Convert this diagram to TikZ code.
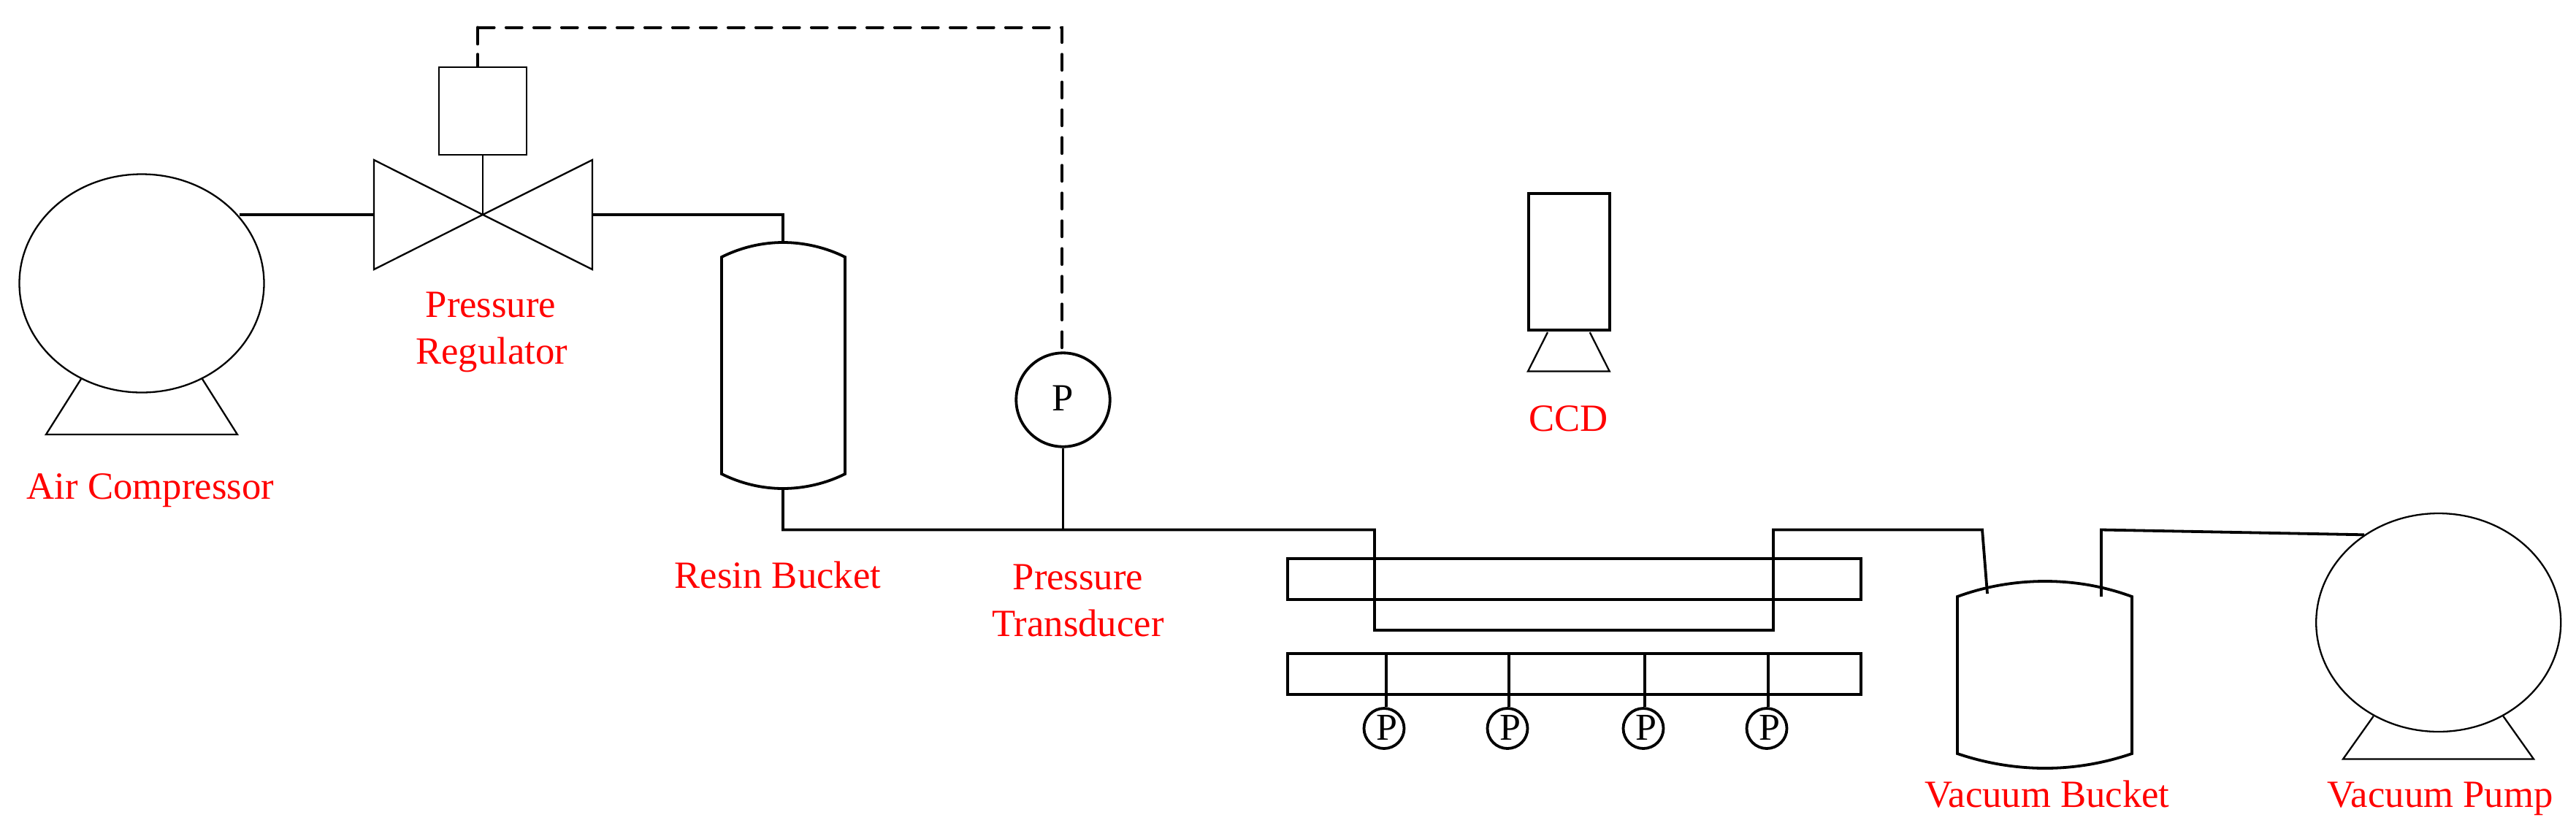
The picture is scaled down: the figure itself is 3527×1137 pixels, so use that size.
\documentclass[tikz,border=0pt]{standalone}
\usepackage{fontspec}
\setmainfont{Liberation Serif}
\usetikzlibrary{shapes.geometric}
\tikzset{
  thinline/.style={draw=black,line width=1.15pt,line join=miter},
  pipe/.style={draw=black,line width=1.9pt,line join=miter},
  signal/.style={draw=black,line width=2pt,line cap=round,dash pattern=on 10.85pt off 8.15pt,dash phase=16.35pt},
  signalend/.style={draw=black,line width=2pt,line cap=round,dash pattern=on 11.4pt off 7pt},
  bucketline/.style={draw=black,line width=1.9pt,line join=miter},
  machine/.style={ellipse,draw=black,line width=1.15pt,inner sep=0pt,minimum width=167.5pt,minimum height=149.5pt},
  gaugebig/.style={circle,draw=black,line width=1.9pt,inner sep=0pt,minimum size=64.2pt,font=\fontsize{26.3pt}{26.3pt}\selectfont},
  gaugesmall/.style={circle,draw=black,line width=1.9pt,inner sep=0pt,minimum size=27.5pt,font=\fontsize{26pt}{26pt}\selectfont},
  boxthin/.style={rectangle,draw=black,line width=1.15pt,inner sep=0pt},
  boxthick/.style={rectangle,draw=black,line width=2pt,inner sep=0pt},
  lbl/.style={text=red,anchor=base,inner sep=0pt,font=\fontsize{26.35pt}{26.35pt}\selectfont},
}
\begin{document}
\begin{tikzpicture}[x=0.5pt,y=-0.5pt]
\path[use as bounding box,fill=white] (0,0) rectangle (3527,1137);

% air compressor
\node[machine] (comp) at (194,388) {};
\coordinate (compout) at (328,294);
\draw[thinline] (111,519) -- (63,595) -- (325,595) -- (277,519);

% valve and actuator
\coordinate (vc) at (661,294);
\coordinate (vl) at (512,294);
\coordinate (vr) at (811,294);
\draw[thinline] (vc) -- (512,369) -- (512,219) -- (vc) -- (811,219) -- (811,369) -- cycle;
\node[boxthin,minimum width=60pt,minimum height=60pt] (act) at (661,152) {};
\draw[thinline] (act.south) -- (vc);

% resin bucket
\coordinate (rtop) at (1072,332);
\coordinate (rbot) at (1072,669);
\draw[bucketline] (988,352) .. controls (1014,339) and (1043,332) .. (rtop)
  .. controls (1101,332) and (1131,339) .. (1157,352) -- (1157,649)
  .. controls (1131,662) and (1101,669) .. (rbot)
  .. controls (1043,669) and (1014,662) .. (988,649) -- cycle;

% vacuum bucket
\coordinate (vtop) at (2800,796);
\coordinate (vbot) at (2800,1052);
\draw[bucketline] (2680,817) .. controls (2718,803) and (2759,796) .. (vtop)
  .. controls (2841,796) and (2881,803) .. (2919,817) -- (2919,1032)
  .. controls (2881,1045) and (2841,1052) .. (vbot)
  .. controls (2759,1052) and (2718,1045) .. (2680,1032) -- cycle;

% vacuum pump
\node[machine] (pump) at (3338.7,852.5) {};
\coordinate (pumpin) at (3237,732.3);
\draw[thinline] (3249.7,980.7) -- (3208,1039.5) -- (3469,1039.5) -- (3427.3,980.7);

% transducer
\node[gaugebig] (pt) at (1455.5,547.5) {\raisebox{2.5pt}{P}};

% test section
\node[boxthick,minimum width=392.5pt,minimum height=27.85pt] (upper) at (2155.5,793) {};
\node[boxthick,minimum width=392.5pt,minimum height=28pt] (lower) at (2155.5,923) {};

% small gauges
\node[gaugesmall] (g1) at (1895,997.5) {\hspace*{4pt}\raisebox{1.5pt}{P}};
\node[gaugesmall] (g2) at (2064,997.5) {\hspace*{4pt}\raisebox{1.5pt}{P}};
\node[gaugesmall] (g3) at (2250,997.5) {\hspace*{4pt}\raisebox{1.5pt}{P}};
\node[gaugesmall] (g4) at (2419,997.5) {\hspace*{4pt}\raisebox{1.5pt}{P}};
\foreach \n/\x in {g1/1898,g2/2066,g3/2252,g4/2421}{
  \coordinate (\n top) at (\x,895);
  \draw[pipe] (\n top) -- (\x,968);
}

% CCD
\node[boxthick,minimum width=55.5pt,minimum height=93.5pt] (ccd) at (2148.2,358.8) {};
\draw[thinline] (2119,455) -- (2092,508.5) -- (2203.7,508.5) -- (2176.7,455);

% pipes
\draw[pipe] (compout) -- (vl);
\draw[pipe] (vr) -| (rtop);
\coordinate (tee) at (1455.5,725.5);
\coordinate (up1) at (1882,725.5);
\coordinate (u1) at (1882,863);
\coordinate (u2) at (2428,863);
\coordinate (up2) at (2428,725.5);
\coordinate (vin) at (2714,725.5);
\coordinate (vinend) at (2721,813);
\coordinate (vout) at (2877,817);
\coordinate (voutc) at (2877,725.5);
\draw[pipe] (rbot) |- (tee) -- (up1) -- (u1) -- (u2) -- (up2) -- (vin) -- (vinend);
\draw[pipe] (pt.south) -- (tee);
\draw[pipe] (vout) -- (voutc) -- (pumpin);

% dashed signal line
\coordinate (sigc) at (1454,37.5);
\coordinate (sigd) at (654,37.5);
\coordinate (acttop) at (654,91);
\draw[signal] (pt.north -| sigc) -- (sigc) -- (sigd);
\draw[signalend] (sigd) -- (acttop);

% labels
\node[lbl] (l1) at (206,683) {Air Compressor};
\node[lbl] (l2) at (672,434) {Pressure};
\node[lbl] (l3) at (673,498) {Regulator};
\node[lbl] (l4) at (1065,805) {Resin Bucket};
\node[lbl] (l5) at (1476,807) {Pressure};
\node[lbl] (l6) at (1476,871) {Transducer};
\node[lbl] (l7) at (2147.5,590) {CCD};
\node[lbl] (l8) at (2803,1105) {Vacuum Bucket};
\node[lbl] (l9) at (3341,1105) {Vacuum Pump};
\end{tikzpicture}
\end{document}
